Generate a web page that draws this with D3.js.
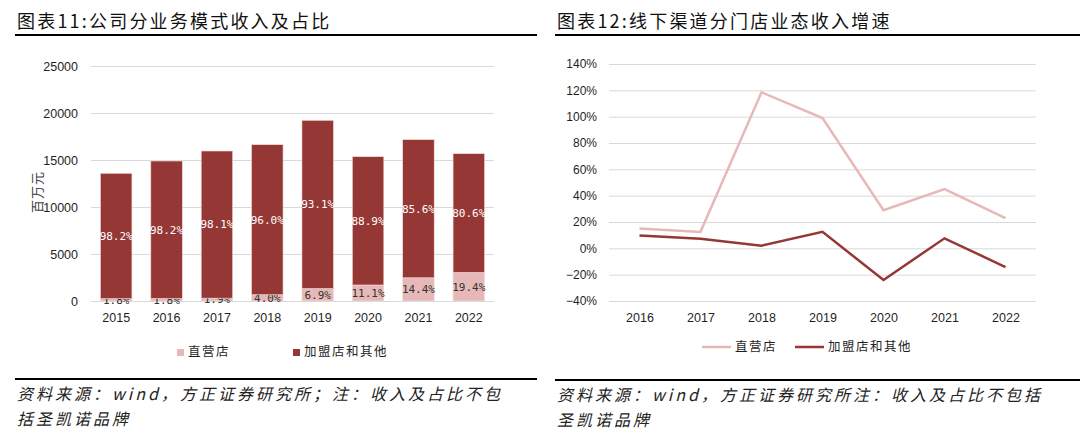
<!DOCTYPE html>
<html>
<head>
<meta charset="utf-8">
<script src="https://cdn.jsdelivr.net/npm/d3@7"></script>
<style>
body { margin: 0; background: #fff; }
svg { display: block; }
</style>
</head>
<body>
<svg id="chart" width="1080" height="436"></svg>
<script>
// 图表11 数据 (百万元)
var years11 = ['2015','2016','2017','2018','2019','2020','2021','2022']
var direct11 = [245, 268, 303, 665, 1326, 1704, 2471, 3040]
var franchise11 = [13340, 14626, 15654, 15963, 17897, 13647, 14689, 12630]
var directPct = ['1.8%','1.8%','1.9%','4.0%','6.9%','11.1%','14.4%','19.4%']
var franchisePct = ['98.2%','98.2%','98.1%','96.0%','93.1%','88.9%','85.6%','80.6%']
var ticks11 = [0, 5000, 10000, 15000, 20000, 25000]

// 图表12 数据 (增速 %)
var years12 = ['2016','2017','2018','2019','2020','2021','2022']
var directGrowth = [15, 12.5, 118.5, 99, 29, 45, 23]
var franchiseGrowth = [9.7, 7.2, 2, 12.5, -24, 7.6, -14.2]
var ticks12 = [-40, -20, 0, 20, 40, 60, 80, 100, 120, 140]

var cLight = '#e6b9b8', cDark = '#953735', cGrid = '#d9d9d9', cText = '#1f1f1f'
var cjk = '"Noto Sans CJK SC", sans-serif'
var latin = '"Liberation Sans", Arial, sans-serif'

var svg = d3.select('#chart')

// 标题 + 线
function header(x, x2, text) {
    svg.append('text').attr('x', x).attr('y', 28)
        .attr('font-family', cjk).attr('font-size', 18).attr('letter-spacing', 2.2)
        .attr('fill', '#111').text(text)
    svg.append('line').attr('x1', x - 2).attr('x2', x2).attr('y1', 35).attr('y2', 35)
        .attr('stroke', '#000').attr('stroke-width', 2)
}
function footer(x, x2, y, lines) {
    svg.append('line').attr('x1', x - 2).attr('x2', x2).attr('y1', y).attr('y2', y)
        .attr('stroke', '#000').attr('stroke-width', 2)
    lines.forEach(function (t, i) {
        svg.append('text').attr('x', x).attr('y', y + 21 + i * 25)
            .attr('font-family', cjk).attr('font-size', 16).attr('font-style', 'italic')
            .attr('letter-spacing', 3).attr('fill', '#222').text(t)
    })
}

header(17, 537, '图表11:公司分业务模式收入及占比')
header(557, 1080, '图表12:线下渠道分门店业态收入增速')
footer(17, 537, 379, ['资料来源：wind，方正证券研究所；注：收入及占比不包', '括圣凯诺品牌'])
footer(557, 1080, 380, ['资料来源：wind，方正证券研究所注：收入及占比不包括', '圣凯诺品牌'])

// ---------- 左图：堆积柱 ----------
var x1 = d3.scaleBand().domain(years11).range([91, 494]).paddingInner(0.375).paddingOuter(0.1875)
var y1 = d3.scaleLinear().domain([0, 25000]).range([301, 66])

var g1 = svg.append('g')
g1.append('g').attr('transform', 'translate(91,0)')
    .call(d3.axisLeft(y1).tickValues(ticks11).tickSize(-403).tickFormat(d3.format('d')))
    .call(function (g) {
        g.select('.domain').remove()
        g.selectAll('.tick line').attr('stroke', cGrid).attr('stroke-width', 1)
        g.selectAll('.tick text').attr('x', -13).attr('fill', cText)
            .attr('font-family', latin).attr('font-size', 12.5)
    })

g1.append('g').attr('transform', 'translate(0,301)')
    .call(d3.axisBottom(x1).tickSize(0).tickPadding(12))
    .call(function (g) {
        g.select('.domain').remove()
        g.selectAll('.tick text').attr('fill', cText).attr('font-family', latin).attr('font-size', 12.5)
    })

var stackData = years11.map(function (y, i) {
    return {year: y, direct: direct11[i], franchise: franchise11[i], dp: directPct[i], fp: franchisePct[i]}
})
var series = d3.stack().keys(['direct', 'franchise'])(stackData)
var colors = {direct: cLight, franchise: cDark}

series.forEach(function (s) {
    g1.append('g').selectAll('rect').data(s).enter().append('rect')
        .attr('x', function (d) { return x1(d.data.year) })
        .attr('width', x1.bandwidth())
        .attr('y', function (d) { return y1(d[1]) })
        .attr('height', function (d) { return y1(d[0]) - y1(d[1]) })
        .attr('fill', colors[s.key])
        .attr('stroke', '#f2dcdb').attr('stroke-width', 0.6)
    g1.append('g').selectAll('text').data(s).enter().append('text')
        .attr('x', function (d) { return x1(d.data.year) + x1.bandwidth() / 2 })
        .attr('y', function (d) { return (y1(d[0]) + y1(d[1])) / 2 })
        .attr('dy', '0.35em').attr('text-anchor', 'middle')
        .attr('font-family', '"DejaVu Sans Mono", monospace').attr('font-size', 11)
        .attr('fill', s.key == 'direct' ? '#333' : '#fff')
        .text(function (d) { return s.key == 'direct' ? d.data.dp : d.data.fp })
})

// y 轴标题
g1.append('text').attr('transform', 'translate(42,192) rotate(-90)')
    .attr('text-anchor', 'middle').attr('font-family', cjk).attr('font-size', 13)
    .attr('letter-spacing', 1).attr('fill', '#404040').text('百万元')

// 图例
var leg1 = [{name: '直营店', c: cLight, x: 177}, {name: '加盟店和其他', c: cDark, x: 293}]
leg1.forEach(function (d) {
    g1.append('rect').attr('x', d.x).attr('y', 349).attr('width', 7).attr('height', 7).attr('fill', d.c)
    g1.append('text').attr('x', d.x + 11).attr('y', 352).attr('dy', '0.35em')
        .attr('font-family', cjk).attr('font-size', 12.5).attr('letter-spacing', 1.5)
        .attr('fill', cText).text(d.name)
})

// ---------- 右图：折线 ----------
var x2 = d3.scalePoint().domain(years12).range([609, 1036]).padding(0.5)
var y2 = d3.scaleLinear().domain([-40, 140]).range([301, 64])

var g2 = svg.append('g')
g2.append('g').attr('transform', 'translate(609,0)')
    .call(d3.axisLeft(y2).tickValues(ticks12).tickSize(-427).tickFormat(function (d) { return d + '%' }))
    .call(function (g) {
        g.select('.domain').remove()
        g.selectAll('.tick line').attr('stroke', cGrid).attr('stroke-width', 1)
        g.selectAll('.tick text').attr('x', -12).attr('fill', cText)
            .attr('font-family', latin).attr('font-size', 12)
            .text(function (d) { return (d < 0 ? '\u2212' + (-d) : d) + '%' })
    })

g2.append('g').attr('transform', 'translate(0,301)')
    .call(d3.axisBottom(x2).tickSize(0).tickPadding(12))
    .call(function (g) {
        g.select('.domain').remove()
        g.selectAll('.tick text').attr('fill', cText).attr('font-family', latin).attr('font-size', 12.5)
    })

var line = d3.line()
    .x(function (d, i) { return x2(years12[i]) })
    .y(function (d) { return y2(d) })

g2.append('path').datum(directGrowth).attr('d', line)
    .attr('fill', 'none').attr('stroke', cLight).attr('stroke-width', 2.5)
g2.append('path').datum(franchiseGrowth).attr('d', line)
    .attr('fill', 'none').attr('stroke', cDark).attr('stroke-width', 2.5)

var leg2 = [{name: '直营店', c: cLight, x: 702}, {name: '加盟店和其他', c: cDark, x: 795}]
leg2.forEach(function (d) {
    g2.append('line').attr('x1', d.x).attr('x2', d.x + 29).attr('y1', 347).attr('y2', 347)
        .attr('stroke', d.c).attr('stroke-width', 2.5)
    g2.append('text').attr('x', d.x + 33).attr('y', 347).attr('dy', '0.35em')
        .attr('font-family', cjk).attr('font-size', 12.5).attr('letter-spacing', 1.5)
        .attr('fill', cText).text(d.name)
})
</script>
</body>
</html>
